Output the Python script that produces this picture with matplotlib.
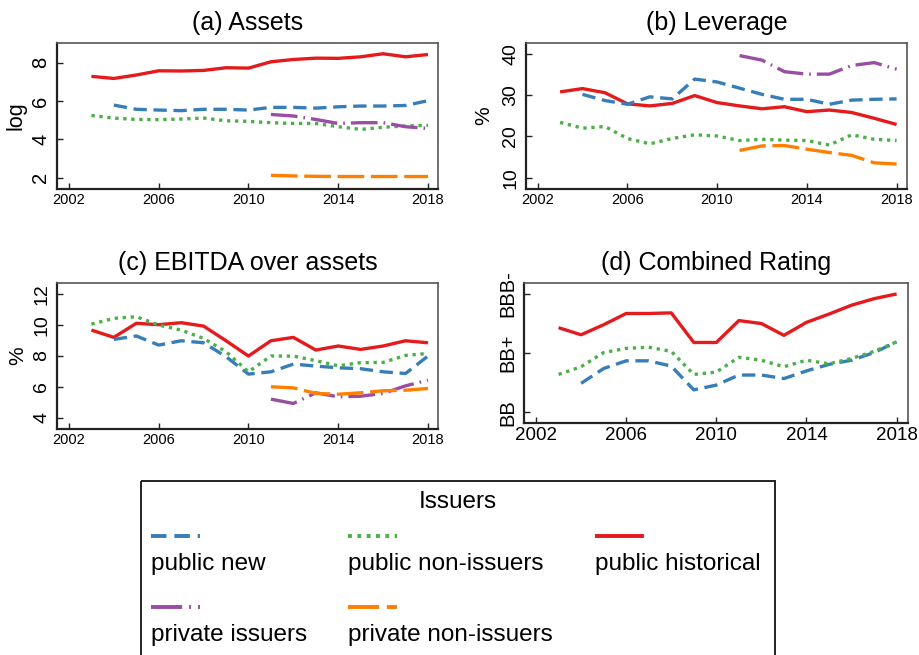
import numpy as np
import matplotlib
matplotlib.use("Agg")
import matplotlib.pyplot as plt
from matplotlib.lines import Line2D
from matplotlib.patches import Rectangle

plt.rcParams['font.family'] = ['Liberation Sans', 'DejaVu Sans']

# years
years_all = np.arange(2003, 2019)   # public historical / non-issuers
years_new = np.arange(2004, 2019)   # public new
years_priv = np.arange(2011, 2019)  # private firms

# (a) Assets, log
assets_hist = [7.29, 7.18, 7.36, 7.58, 7.57, 7.60, 7.74, 7.72, 8.05, 8.17, 8.24, 8.23, 8.31, 8.47, 8.31, 8.43]
assets_new = [5.79, 5.57, 5.53, 5.50, 5.57, 5.57, 5.53, 5.67, 5.67, 5.63, 5.70, 5.74, 5.74, 5.77, 6.02]
assets_nonis = [5.25, 5.11, 5.04, 5.03, 5.06, 5.11, 4.97, 4.94, 4.87, 4.83, 4.83, 4.66, 4.52, 4.63, 4.70, 4.73]
assets_priv_is = [5.30, 5.22, 5.04, 4.83, 4.87, 4.87, 4.66, 4.57]
assets_priv_non = [2.12, 2.09, 2.07, 2.06, 2.06, 2.06, 2.06, 2.06]

# (b) Leverage, %
lev_hist = [30.8, 31.6, 30.6, 27.9, 27.4, 28.0, 29.9, 28.2, 27.4, 26.7, 27.2, 26.0, 26.4, 25.8, 24.4, 22.9]
lev_new = [30.2, 28.7, 27.8, 29.6, 29.1, 33.9, 33.2, 31.7, 30.2, 29.0, 29.0, 27.8, 28.8, 29.0, 29.1]
lev_nonis = [23.4, 22.0, 22.4, 19.5, 18.2, 19.5, 20.4, 20.1, 19.0, 19.3, 19.1, 19.0, 17.9, 20.4, 19.3, 19.0]
lev_priv_is = [39.6, 38.5, 35.7, 35.1, 35.1, 37.2, 37.9, 36.3]
lev_priv_non = [16.6, 17.7, 17.8, 16.9, 16.1, 15.4, 13.6, 13.3]

# (c) EBITDA over assets, %
eb_hist = [9.66, 9.19, 10.10, 10.01, 10.14, 9.92, 8.97, 7.98, 8.97, 9.19, 8.37, 8.63, 8.41, 8.63, 8.97, 8.84]
eb_new = [9.06, 9.28, 8.69, 8.97, 8.84, 7.94, 6.81, 6.96, 7.46, 7.33, 7.22, 7.16, 6.96, 6.85, 7.98]
eb_nonis = [10.05, 10.42, 10.53, 9.99, 9.66, 9.12, 8.26, 6.96, 7.98, 7.98, 7.68, 7.35, 7.55, 7.57, 8.02, 8.15]
eb_priv_is = [5.19, 4.91, 5.60, 5.34, 5.38, 5.56, 6.05, 6.42]
eb_priv_non = [5.99, 5.92, 5.56, 5.51, 5.60, 5.73, 5.77, 5.88]

# (d) Combined rating (BB = 1, BB+ = 2, BBB- = 3)
rat_hist = [2.43, 2.31, 2.48, 2.67, 2.67, 2.68, 2.18, 2.18, 2.55, 2.50, 2.30, 2.52, 2.66, 2.81, 2.92, 3.00]
rat_new = [1.49, 1.74, 1.87, 1.87, 1.78, 1.38, 1.46, 1.63, 1.63, 1.57, 1.70, 1.81, 1.88, 2.01, 2.19]
rat_nonis = [1.64, 1.77, 2.01, 2.08, 2.10, 2.03, 1.64, 1.68, 1.93, 1.88, 1.77, 1.88, 1.82, 1.91, 2.03, 2.19]
rating_ticks = [1, 2, 3]
rating_labels = ['BB', 'BB+', 'BBB-']

x_ticks = [2002, 2006, 2010, 2014, 2018]

# series styles: label, colour, dashes
styles = {
    'new': ('public new', '#377EB8', (4, 2)),
    'nonis': ('public non-issuers', '#4DAF4A', (1, 1.4)),
    'hist': ('public historical', '#E41A1C', None),
    'priv_is': ('private issuers', '#984EA3', (8, 1.8, 0.5, 1.8)),
    'priv_non': ('private non-issuers', '#FF7F00', (8, 2)),
}
LW = 2.4

fig = plt.figure(figsize=(9.2, 6.55), dpi=100)


def add_line(ax, x, y, key):
    label, color, dashes = styles[key]
    ln, = ax.plot(x, y, color=color, lw=LW, solid_capstyle='butt', dash_capstyle='butt')
    if dashes is not None:
        ln.set_dashes(dashes)
    return ln


def style_axes(ax, title, ylim, yticks, ylabel=None, ylab_x=-0.1, xlim=(2001.48, 2018.46),
               tick_fs=14, ylab_fs=15):
    ax.set_xlim(*xlim)
    ax.set_ylim(*ylim)
    ax.set_xticks(x_ticks)
    ax.set_yticks(yticks)
    ax.set_title(title, fontsize=18, pad=9)
    for s in ['left', 'bottom']:
        ax.spines[s].set_linewidth(1.6)
        ax.spines[s].set_color('#222222')
    for s in ['top', 'right']:
        ax.spines[s].set_linewidth(1.2)
        ax.spines[s].set_color('#555555')
    ax.tick_params(direction='in', length=4.5, width=1, color='#222222')
    ax.tick_params(axis='x', labelsize=10.5, pad=3)
    ax.tick_params(axis='y', labelsize=tick_fs, pad=5, labelrotation=90)
    for lab in ax.get_yticklabels():
        lab.set_va('center')
    if ylabel:
        ax.text(ylab_x, 0.5, ylabel, rotation=90, ha='center', va='center',
                fontsize=ylab_fs, transform=ax.transAxes)


# (a) Assets
ax_a = fig.add_axes([0.0623, 0.7115, 0.4141, 0.2234])
add_line(ax_a, years_all, assets_hist, 'hist')
add_line(ax_a, years_new, assets_new, 'new')
add_line(ax_a, years_all, assets_nonis, 'nonis')
add_line(ax_a, years_priv, assets_priv_is, 'priv_is')
add_line(ax_a, years_priv, assets_priv_non, 'priv_non')
style_axes(ax_a, '(a) Assets', (1.41, 9.05), [2, 4, 6, 8], 'log', -0.108,
           tick_fs=14.5, ylab_fs=15.5)

# (b) Leverage
ax_b = fig.add_axes([0.5717, 0.711, 0.4141, 0.2239])
add_line(ax_b, years_all, lev_hist, 'hist')
add_line(ax_b, years_new, lev_new, 'new')
add_line(ax_b, years_all, lev_nonis, 'nonis')
add_line(ax_b, years_priv, lev_priv_is, 'priv_is')
add_line(ax_b, years_priv, lev_priv_non, 'priv_non')
style_axes(ax_b, '(b) Leverage', (7.18, 42.74), [10, 20, 30, 40], '%', -0.11)

# (c) EBITDA over assets
ax_c = fig.add_axes([0.0623, 0.345, 0.4141, 0.2234])
add_line(ax_c, years_all, eb_hist, 'hist')
add_line(ax_c, years_new, eb_new, 'new')
add_line(ax_c, years_all, eb_nonis, 'nonis')
add_line(ax_c, years_priv, eb_priv_is, 'priv_is')
add_line(ax_c, years_priv, eb_priv_non, 'priv_non')
style_axes(ax_c, '(c) EBITDA over assets', (3.255, 12.73), [4, 6, 8, 10, 12], '%', -0.105)

# (d) Combined Rating
ax_d = fig.add_axes([0.5699, 0.3537, 0.4167, 0.2147])
add_line(ax_d, years_all, rat_hist, 'hist')
add_line(ax_d, years_new, rat_new, 'new')
add_line(ax_d, years_all, rat_nonis, 'nonis')
style_axes(ax_d, '(d) Combined Rating', (0.814, 3.19), rating_ticks,
           xlim=(2001.48, 2018.49))
ax_d.set_yticklabels(rating_labels)
for lab in ax_d.get_yticklabels():
    lab.set_va('center')
ax_d.tick_params(axis='y', labelsize=14.5)
ax_d.tick_params(axis='x', labelsize=13.5)

# legend drawn in pixel coordinates, labels below keys
lax = fig.add_axes([0, 0, 1, 1])
lax.set_xlim(0, 920)
lax.set_ylim(655, 0)
lax.axis('off')
lax.add_patch(Rectangle((141, 480.7), 634, 200, fill=False, lw=1.4, edgecolor='#222222'))
lax.text(458, 502, 'Issuers', ha='center', va='center', fontsize=17.5)
legend_order = ['new', 'nonis', 'hist', 'priv_is', 'priv_non']
col_x = [151, 348, 595]
row_y = [536, 607]
for i, key in enumerate(legend_order):
    label, color, dashes = styles[key]
    cx = col_x[i % 3]
    ry = row_y[i // 3]
    ln = Line2D([cx, cx + 49], [ry, ry], color=color, lw=LW + 0.4,
                solid_capstyle='butt', dash_capstyle='butt')
    if dashes is not None:
        ln.set_dashes(dashes)
    lax.add_line(ln)
    lax.text(cx, ry + 28, label, ha='left', va='center', fontsize=17.5)

fig.savefig('out.png', dpi=100)
